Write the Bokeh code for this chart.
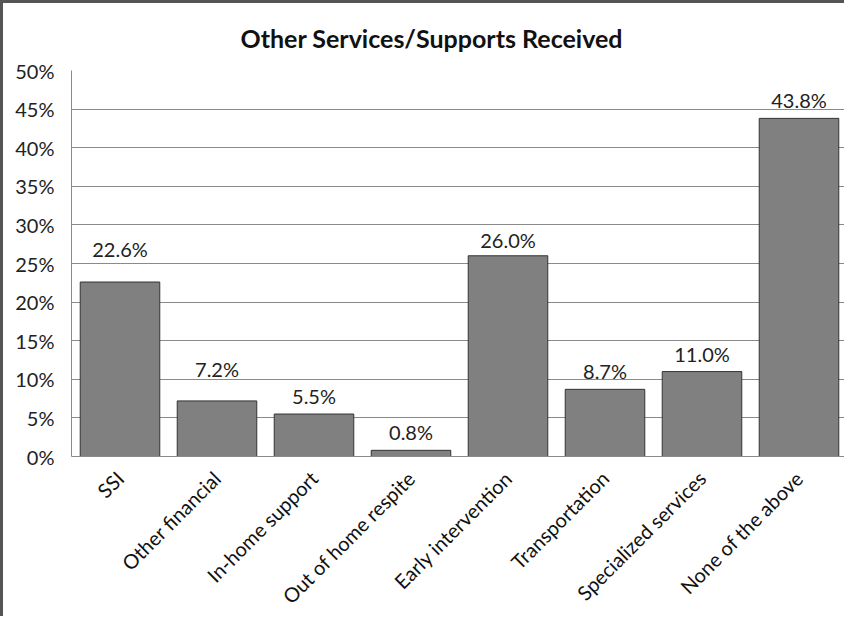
import math
from bokeh.plotting import figure
from bokeh.models import ColumnDataSource, NumeralTickFormatter, FixedTicker
from bokeh.core.properties import value
from bokeh.embed import file_html
from bokeh.resources import INLINE

categories = ["SSI", "Other financial", "In-home support", "Out of home respite",
              "Early intervention", "Transportation", "Specialized services", "None of the above"]
shares = [0.226, 0.072, 0.055, 0.008, 0.260, 0.087, 0.110, 0.438]
share_labels = ["22.6%", "7.2%", "5.5%", "0.8%", "26.0%", "8.7%", "11.0%", "43.8%"]
y_ticks = [0.0, 0.05, 0.10, 0.15, 0.20, 0.25, 0.30, 0.35, 0.40, 0.45, 0.50]

# style: label lift above bar top (screen px)
label_lift = [33, 32, 18, 18, 16, 18, 18, 18]

FONT = "Lato"

src = ColumnDataSource(dict(cat=categories, val=shares, lab=share_labels,
                            yoff=[-l for l in label_lift]))

p = figure(x_range=categories, y_range=(0, 0.5), width=844, height=616,
           output_backend="svg", toolbar_location=None,
           min_border_left=68, min_border_right=0, min_border_top=67, min_border_bottom=140,
           title="Other Services/Supports Received")
p.styles = {"border-top": "3px solid #555555", "border-left": "3px solid #555555"}

p.title.align = "left"
p.title.vertical_align = "top"
p.title.text_font = FONT
p.title.text_font_size = "25px"
p.title.text_font_style = "bold"
p.title.text_color = "#111111"
p.title.text_line_height = 0.6
p.title.offset = 169
p.title.standoff = 31

p.vbar(x="cat", top="val", width=0.82, source=src, fill_color="#808080",
       line_color="#333333", line_width=1)

p.text(x="cat", y="val", text="lab", source=src, y_offset="yoff",
       text_align="center", text_baseline="middle",
       text_font=value(FONT), text_font_size="20px", text_color="#222222")

p.yaxis.ticker = FixedTicker(ticks=y_ticks)
p.yaxis.formatter = NumeralTickFormatter(format="0%")
p.yaxis.major_label_text_font = FONT
p.yaxis.major_label_text_font_size = "20px"
p.yaxis.major_label_text_color = "#222222"
p.yaxis.major_label_standoff = 11
p.yaxis.major_tick_line_color = None
p.yaxis.minor_tick_line_color = None
p.yaxis.axis_line_color = "#8a8a8a"

p.xaxis.major_label_orientation = math.pi / 4
p.xaxis.major_label_text_font = FONT
p.xaxis.major_label_text_font_size = "20px"
p.xaxis.major_label_text_color = "#111111"
p.xaxis.major_label_standoff = 12
p.xaxis.major_tick_line_color = None
p.xaxis.axis_line_color = "#8a8a8a"

p.xgrid.grid_line_color = None
p.ygrid.grid_line_color = "#8a8a8a"
p.ygrid.grid_line_width = 1
p.outline_line_color = None
p.x_range.range_padding = 0
p.background_fill_color = "white"
p.border_fill_color = "white"

open("out.html", "w").write(file_html(p, INLINE))
